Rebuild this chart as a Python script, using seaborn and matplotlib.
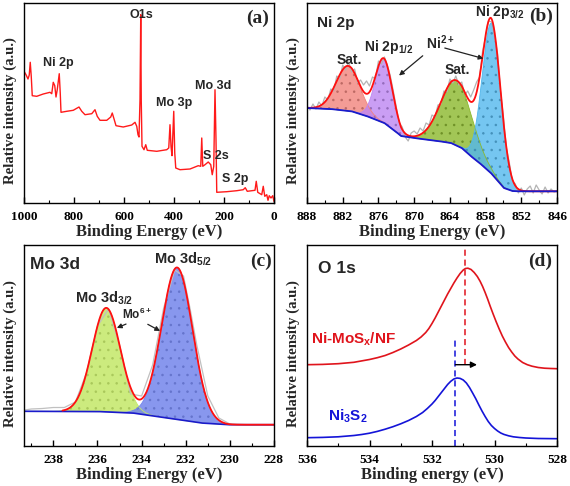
import numpy as np
import matplotlib
matplotlib.use("Agg")
import matplotlib.pyplot as plt
from matplotlib.ticker import MultipleLocator
import seaborn as sns
import pandas as pd

# ---------------- (a) survey spectrum ----------------
survey_be = [1000, 992, 984, 979, 975, 971, 967, 949, 923, 896, 889, 883, 877, 872, 867, 859, 855, 852,
             829, 803, 780, 769, 756, 729, 716, 707, 696, 669, 653, 647, 639, 632, 603, 569, 556, 549,
             544, 540, 536, 533, 531, 528, 520, 513, 507, 469, 429, 421, 416, 412, 408, 401, 397, 393,
             376, 336, 303, 293, 289, 285, 276, 263, 253, 247, 241, 236, 232, 229, 189, 149, 123, 115,
             107, 76, 71, 65, 49, 43, 37, 29, 24, 19, 12, 5, 0]
survey_int = [131.7, 128.3, 124, 128, 140.7, 126.7, 107.3, 106.7, 109, 110.7, 109.3, 120.7, 117.3, 106,
              113.3, 129.3, 110, 90.7, 91.7, 92.7, 96, 91.7, 88.3, 89.3, 93.3, 86.7, 82.7, 82.7, 86, 90,
              83.3, 77.3, 76, 78, 80.7, 76.7, 68.3, 66, 103, 188.3, 103, 56.7, 53.3, 58.3, 52.7, 51.7,
              53.3, 55, 78.3, 56.7, 47.3, 91.7, 50, 35, 33.3, 34, 37.3, 36.7, 65, 36.7, 38.3, 41, 38.3,
              28.3, 36.7, 113.3, 63.3, 10.7, 11.3, 12.3, 13.3, 15.3, 11.7, 12.7, 21.7, 10.7, 8.3, 16.7,
              6.7, 8.3, 2.7, 7.3, 5, 7.3, 1.7]
survey_labels = ["O1s", "Ni 2p", "Mo 3p", "Mo 3d", "S 2s", "S 2p"]
survey_label_be = [529, 861, 401, 243, 233, 156]
survey_label_int = [188, 139.7, 99.7, 117, 47, 23.7]

# ---------------- (b) Ni 2p ----------------
ni_bg_be = [888, 884, 880.5, 878, 875, 873, 872.2, 870, 866, 863.8, 862, 860.5, 859, 857.1, 855.5,
            854.9, 853.5, 852.7, 846]
ni_bg_int = [95, 94, 91.7, 87, 80, 71, 67, 65, 62, 60, 55, 47, 40, 30, 19, 15, 12, 11.7, 11.7]
ni_peak_names = ["Sat. 1", "Ni 2p1/2", "Sat. 2", "Ni 2p3/2"]
ni_peak_center = [881.1, 875.1, 862.9, 857.0]
ni_peak_height = [45, 64, 65, 150]
ni_peak_sigma = [2.0, 1.45, 2.6, 1.55]
ni_peak_color = ["#f2837c", "#bd86f2", "#8bb82c", "#52b8ee"]
ni_raw_be = [888 - 0.5 * i for i in range(85)]
ni_raw_int = [97, 93, 99, 94, 101, 97, 106, 103, 114, 112, 127, 124, 138, 133, 141, 131, 134, 120, 123,
              118, 122, 117, 126, 124, 142, 139, 146, 138, 127, 112, 96, 80, 76, 66, 62, 70, 72, 69, 75,
              72, 80, 78, 88, 86, 98, 99, 112, 111, 124, 120, 127, 118, 121, 108, 112, 106, 113, 121,
              126, 152, 166, 182, 181, 167, 150, 112, 86, 55, 40, 22, 19, 10, 15, 8, 14, 17, 10, 18, 13,
              9, 16, 10, 14, 11, 12]

# ---------------- (c) Mo 3d ----------------
mo_bg_be = [239.33, 236, 234.4, 232.85, 231.3, 230.1, 228]
mo_bg_int = [34.7, 34.5, 33, 28, 23, 21.3, 21.3]
mo_peak_names = ["Mo 3d3/2", "Mo 3d5/2"]
mo_peak_center = [235.6, 232.39]
mo_peak_height = [104, 152]
mo_peak_sigma = [0.64, 0.70]
mo_peak_color = ["#c3e868", "#7385ec"]
mo_raw_be = [239.3, 239.0, 238.5, 238.0, 237.5, 237.0, 236.5, 236.0, 235.5, 235.0, 234.5, 234.0,
             233.5, 233.0, 232.5, 232.1, 231.8, 231.5, 231.0, 230.5, 230.0, 229.5, 229.0, 228.5, 228.0]
mo_raw_int = [36, 37, 37.5, 38.5, 38.5, 44, 73, 120, 137, 101, 52, 50, 81, 138, 176, 170, 137, 101,
              50, 28, 22, 21.5, 21.3, 21.3, 21.3]

# ---------------- (d) O 1s ----------------
o_nimos_be = [536.0, 535.5, 535.0, 534.5, 534.0, 533.75, 533.5, 533.25, 533.0, 532.75, 532.5, 532.35,
              532.2, 532.1, 532.0, 531.9, 531.8, 531.7, 531.6, 531.5, 531.4, 531.3, 531.2, 531.1,
              531.0, 530.93, 530.85, 530.75, 530.65, 530.55, 530.46, 530.38, 530.3, 530.22, 530.14,
              530.05, 529.95, 529.85, 529.75, 529.65, 529.55, 529.45, 529.35, 529.25, 529.1, 528.95,
              528.8, 528.6, 528.4, 528.2, 528.0]
o_nimos_int = [81.3, 81.6, 82.3, 83.7, 86.5, 88.3, 90.5, 93.5, 97, 101, 105.5, 109, 113.5, 117.5, 122.5,
               128, 134, 140, 146, 152, 157.5, 163, 168, 172.5, 176, 177.5, 177.8, 176.5, 173.5, 169.5,
               164.7, 159.5, 153.5, 147, 140, 132.5, 124.5, 117, 110, 104, 98.5, 94, 90, 87, 83.5,
               81.3, 79.8, 78.5, 77.8, 77.5, 77.3]
o_ni3s2_be = [536.0, 535.5, 535.0, 534.5, 534.25, 534.0, 533.75, 533.5, 533.25, 533.0, 532.75, 532.5,
              532.3, 532.15, 532.0, 531.9, 531.8, 531.7, 531.6, 531.5, 531.4, 531.3, 531.2, 531.1,
              531.0, 530.9, 530.8, 530.7, 530.6, 530.5, 530.4, 530.3, 530.2, 530.1, 530.0, 529.9,
              529.8, 529.7, 529.55, 529.4, 529.2, 529.0, 528.6, 528.0]
o_ni3s2_int = [8.3, 8.6, 9.2, 10.5, 11.5, 12.8, 14.6, 16.8, 19.3, 22.2, 25.5, 29.5, 33.5, 37.5, 42,
               45.5, 49.5, 53.5, 57.5, 61.5, 64.7, 67, 68, 67.6, 66, 63, 58.5, 53, 47.3, 41, 35, 29.5,
               24.5, 20.5, 17.5, 15, 13, 11.6, 10.2, 9.2, 8.5, 8, 7.5, 7.3]
o_peak_be = [530.93, 531.25]
o_series = ["Ni-MoS$_x$/NF", "Ni$_3$S$_2$"]

# ---------------- style ----------------
sns.set_style("ticks")
plt.rcParams.update({
    "font.family": ["Liberation Serif", "DejaVu Serif"],
    "font.weight": "bold",
    "axes.labelweight": "bold",
    "axes.linewidth": 1.0,
    "axes.edgecolor": "black",
    "xtick.color": "black",
    "xtick.direction": "in",
    "xtick.major.size": 4,
    "xtick.minor.size": 2,
    "xtick.major.width": 1.0,
    "xtick.minor.width": 0.8,
    "xtick.labelsize": 9.5,
    "mathtext.fontset": "custom",
    "mathtext.rm": "Liberation Sans:bold",
    "mathtext.it": "Liberation Sans:bold",
    "mathtext.bf": "Liberation Sans:bold",
    "hatch.linewidth": 0.6,
})
SANS = dict(family="Liberation Sans", weight="bold")
SERIF = dict(family="Liberation Serif", weight="bold")

W, H = 570, 486
fig = plt.figure(figsize=(W / 100, H / 100), dpi=100)


def make_ax(l, t, r, b):
    return fig.add_axes([l / W, 1 - b / H, (r - l) / W, (b - t) / H])


axa = make_ax(24, 3, 274, 203)
axb = make_ax(307, 3, 557, 203)
axc = make_ax(24, 245, 274, 446)
axd = make_ax(307, 245, 557, 446)


def style(ax, xlim, ylim, major, minor, xlabel):
    ax.set_xlim(*xlim)
    ax.set_ylim(*ylim)
    ax.xaxis.set_major_locator(MultipleLocator(major))
    ax.xaxis.set_minor_locator(MultipleLocator(minor))
    ax.set_yticks([])
    ax.tick_params(axis="x", which="both", top=False, pad=6)
    ax.set_xlabel(xlabel, fontsize=12, fontweight="bold", family="Liberation Serif")
    ax.set_ylabel("Relative intensity (a.u.)", fontsize=10.7, fontweight="bold",
                  family="Liberation Serif")
    ax.xaxis.set_label_coords(0.5, -0.105)
    ax.yaxis.set_label_coords(-0.026, 0.46)
    for s in ax.spines.values():
        s.set_visible(True)
        s.set_linewidth(1.0)


# ---- (a)
df_a = pd.DataFrame({"be": survey_be, "int": survey_int})
sns.lineplot(data=df_a, x="be", y="int", ax=axa, color="#ff1a1a", lw=1.0, sort=False, estimator=None)
style(axa, (1000, 0), (0, 200), 200, 100, "Binding Energy (eV)")
for t, x, y in zip(survey_labels, survey_label_be, survey_label_int):
    axa.text(x, y, t, ha="center", va="center", fontsize=9, **SANS)
axa.text(67, 184.7, "(a)", ha="center", va="center", fontsize=14, **SERIF)


# ---- fitted-peak helper
def gauss(x, c, h, s):
    return h * np.exp(-(x - c) ** 2 / (2 * s ** 2))


def darker(c, f=0.75):
    r, g, b = matplotlib.colors.to_rgb(c)
    return (r * f, g * f, b * f)


# ---- (b)
gb = np.linspace(888, 846, 800)
bg_b = np.interp(gb, ni_bg_be[::-1], ni_bg_int[::-1])
sns.lineplot(x=ni_raw_be, y=ni_raw_int, ax=axb, color="#b4b4b4", lw=0.9, sort=False, estimator=None)
env_b = bg_b.copy()
for c, h, s, col in zip(ni_peak_center, ni_peak_height, ni_peak_sigma, ni_peak_color):
    comp = gauss(gb, c, h, s)
    env_b += comp
    axb.fill_between(gb, bg_b, bg_b + comp, facecolor=col, alpha=0.8, edgecolor=darker(col),
                     hatch="..", linewidth=0)
    axb.plot(gb, bg_b + comp, color=col, lw=0.6)
sns.lineplot(x=gb, y=env_b, ax=axb, color="#ff1010", lw=1.3, sort=False, estimator=None)
sns.lineplot(x=gb, y=bg_b, ax=axb, color="#1a1acc", lw=1.3, sort=False, estimator=None)
style(axb, (888, 846), (0, 200), 6, 3, "Binding Energy (eV)")
axb.text(883.2, 179.7, "Ni 2p", ha="center", va="center", fontsize=11, **SANS)
axb.text(880.9, 143, "Sat.", ha="center", va="center", fontsize=10, **SANS)
axb.text(862.7, 133, "Sat.", ha="center", va="center", fontsize=10, **SANS)
axb.text(874.2, 156.3, "Ni 2p$_{1/2}$", ha="center", va="center", fontsize=10, **SANS)
axb.text(855.6, 191.3, "Ni 2p$_{3/2}$", ha="center", va="center", fontsize=10, **SANS)
axb.text(865.7, 160.3, "Ni$^{2+}$", ha="center", va="center", fontsize=10, **SANS)
axb.text(848.6, 186.3, "(b)", ha="center", va="center", fontsize=14, **SERIF)
arr = dict(arrowstyle="-|>", color="#222222", lw=0.9, mutation_scale=7)
axb.annotate("", xy=(872.9, 125.7), xytext=(868.2, 149), arrowprops=arr)
axb.annotate("", xy=(857.9, 143.7), xytext=(865.3, 155.7), arrowprops=arr)

# ---- (c)
gc = np.linspace(239.33, 228, 800)
bg_c = np.interp(gc, mo_bg_be[::-1], mo_bg_int[::-1])
sns.lineplot(x=mo_raw_be, y=mo_raw_int, ax=axc, color="#c0c0c0", lw=0.9, sort=False, estimator=None)
env_c = bg_c.copy()
for c, h, s, col in zip(mo_peak_center, mo_peak_height, mo_peak_sigma, mo_peak_color):
    comp = gauss(gc, c, h, s)
    env_c += comp
    axc.fill_between(gc, bg_c, bg_c + comp, facecolor=col, alpha=0.85, edgecolor=darker(col, 0.85),
                     hatch="..", linewidth=0)
    axc.plot(gc, bg_c + comp, color=col, lw=0.6)
sns.lineplot(x=gc, y=bg_c, ax=axc, color="#1a1acc", lw=1.2, sort=False, estimator=None)
env_mask = gc <= 237.6
sns.lineplot(x=gc[env_mask], y=env_c[env_mask], ax=axc, color="#ff1010", lw=1.3, sort=False,
             estimator=None)
style(axc, (239.33, 228), (0, 201), 2, 1, "Binding Energy (eV)")
axc.text(237.92, 181.3, "Mo 3d", ha="center", va="center", fontsize=12.5, **SANS)
axc.text(232.14, 187, "Mo 3d$_{5/2}$", ha="center", va="center", fontsize=10.5, **SANS)
axc.text(235.7, 148, "Mo 3d$_{3/2}$", ha="center", va="center", fontsize=10.5, **SANS)
axc.text(234.2, 131.3, "Mo$^{6+}$", ha="center", va="center", fontsize=8.5, **SANS)
axc.text(228.6, 184.7, "(c)", ha="center", va="center", fontsize=14, **SERIF)
axc.annotate("", xy=(235.24, 117), xytext=(234.59, 123), arrowprops=arr)
axc.annotate("", xy=(233.05, 113.7), xytext=(233.83, 123), arrowprops=arr)

# ---- (d)
sns.lineplot(x=o_nimos_be, y=o_nimos_int, ax=axd, color="#e0141c", lw=1.2, sort=False, estimator=None)
sns.lineplot(x=o_ni3s2_be, y=o_ni3s2_int, ax=axd, color="#1414d8", lw=1.2, sort=False, estimator=None)
axd.plot([o_peak_be[0]] * 2, [81, 201], ls=(0, (4, 2.5)), color="#e0141c", lw=1.1)
axd.plot([o_peak_be[1]] * 2, [0, 108], ls=(0, (4, 2.5)), color="#1414d8", lw=1.1)
axd.annotate("", xy=(530.56, 81.3), xytext=(o_peak_be[1], 81.3),
             arrowprops=dict(arrowstyle="-|>", color="black", lw=1.0, mutation_scale=9,
                             shrinkA=0, shrinkB=0))
style(axd, (536, 528), (0, 201), 2, 1, "Binding energy (eV)")
axd.text(535.04, 178, "O 1s", ha="center", va="center", fontsize=12.5, **SANS)
axd.text(528.55, 184.7, "(d)", ha="center", va="center", fontsize=14, **SERIF)
axd.text(534.5, 106.3, o_series[0], ha="center", va="center", fontsize=11, color="#e0141c", **SANS)
axd.text(534.7, 29.7, o_series[1], ha="center", va="center", fontsize=11, color="#1414d8", **SANS)

for ax in (axa, axb, axc, axd):
    for lab in ax.get_xticklabels():
        lab.set_family("Liberation Serif")
        lab.set_fontweight("bold")

fig.savefig("out.png", dpi=100)
